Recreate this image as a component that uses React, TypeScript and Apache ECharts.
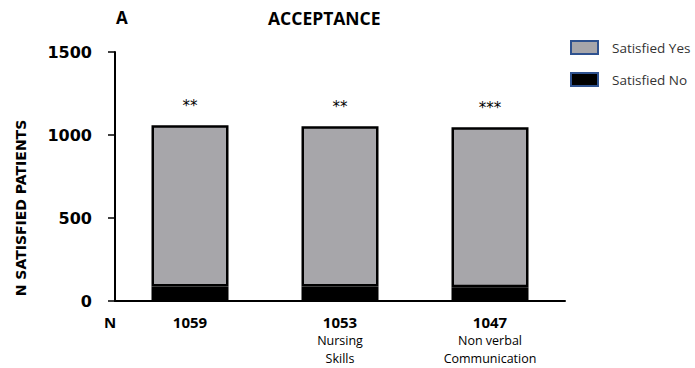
import React, { useEffect, useRef } from "react";
import * as echarts from "echarts";

const categories = ["1059", "1053", "1047"];
const subLabels = ["", "Nursing\nSkills", "Non verbal\nCommunication"];
const satisfiedNo = [88, 88, 83];
const satisfiedYes = [971, 965, 964];
const significance = ["**", "**", "***"];
const yTicks = [0, 500, 1000, 1500];

export default function App() {
  const ref = useRef<HTMLDivElement>(null);
  useEffect(() => {
    if (!ref.current) return;
    const chart = echarts.init(ref.current, null, { renderer: "svg" });
    const font = "'DejaVu Sans', sans-serif";
    const ofont = "'Open Sans', sans-serif";
    chart.setOption({
      animation: false,
      backgroundColor: "#ffffff",
      grid: { left: 115, right: 130, top: 52, bottom: 67 },
      graphic: [
        { type: "text", left: 116, top: 9, style: { text: "A", font: `bold 17px ${ofont}`, fill: "#000" } },
        { type: "text", left: 268, top: 9, style: { text: "ACCEPTANCE", font: `bold 17.5px ${ofont}`, fill: "#000" } },
        { type: "text", left: 104, top: 314, style: { text: "N", font: `bold 15px ${ofont}`, fill: "#000" } },
        {
          type: "text",
          x: 21,
          y: 208,
          rotation: Math.PI / 2,
          style: {
            text: "N SATISFIED PATIENTS",
            font: `bold 14px ${font}`,
            fill: "#000",
            align: "center",
            verticalAlign: "middle",
          },
        },
      ],
      legend: {
        orient: "vertical",
        left: 565,
        top: 35,
        itemWidth: 27,
        itemHeight: 13,
        itemGap: 17,
        icon: "rect",
        textStyle: { fontFamily: ofont, fontSize: 13.5, color: "#333", padding: [0, 0, 0, 9] },
        data: [
          { name: "Satisfied Yes", itemStyle: { color: "#a7a6aa", borderColor: "#2f528f", borderWidth: 2 } },
          { name: "Satisfied No", itemStyle: { color: "#000000", borderColor: "#2f528f", borderWidth: 2 } },
        ],
      },
      xAxis: {
        type: "category",
        data: categories,
        axisLine: { show: true, lineStyle: { color: "#000", width: 2 } },
        axisTick: { show: false },
        axisLabel: {
          margin: 12,
          interval: 0,
          formatter: (v: string, i: number) =>
            `{n|${v}}` + (subLabels[i] ? "\n" + subLabels[i].split("\n").map((s) => `{s|${s}}`).join("\n") : ""),
          rich: {
            n: { fontFamily: ofont, fontWeight: "bold", fontSize: 15, color: "#000", lineHeight: 18 },
            s: { fontFamily: ofont, fontSize: 12.5, color: "#000", lineHeight: 18 },
          },
        },
      },
      yAxis: {
        type: "value",
        min: yTicks[0],
        max: yTicks[yTicks.length - 1],
        interval: 500,
        axisLine: { show: true, lineStyle: { color: "#000", width: 2 } },
        axisTick: { show: true, inside: false, length: 7, lineStyle: { color: "#000", width: 1.5 } },
        splitLine: { show: false },
        axisLabel: {
          margin: 23,
          formatter: (v: number) => String(v),
          fontFamily: font,
          fontWeight: "bold",
          fontSize: 16,
          color: "#000",
        },
      },
      series: [
        {
          name: "Satisfied No",
          type: "bar",
          stack: "total",
          barWidth: 77,
          data: satisfiedNo,
          itemStyle: { color: "#000000", borderColor: "#000", borderWidth: 2 },
        },
        {
          name: "Satisfied Yes",
          type: "bar",
          stack: "total",
          barWidth: 77,
          data: satisfiedYes,
          itemStyle: { color: "#a7a6aa", borderColor: "#000", borderWidth: 2.5 },
          label: {
            show: true,
            position: "top",
            distance: 12,
            formatter: (p: any) => significance[p.dataIndex],
            fontFamily: font,
            fontSize: 15,
            color: "#000",
          },
        },
      ],
    });
    return () => chart.dispose();
  }, []);
  return <div ref={ref} style={{ width: 695, height: 368, position: "absolute", left: 0, top: 0 }} />;
}
